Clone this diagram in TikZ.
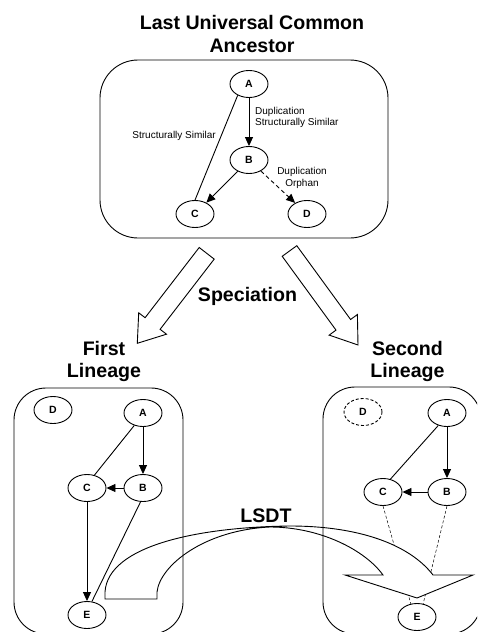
\documentclass[tikz,border=0pt]{standalone}
\usepackage{fontspec}
\setmainfont{Liberation Sans}
\usetikzlibrary{arrows.meta,shapes.geometric}
\begin{document}
\begin{tikzpicture}[x=1pt,y=-1pt,
  gene/.style={ellipse,draw,line width=0.9pt,minimum width=38pt,minimum height=27pt,inner sep=0pt,font=\fontsize{10.5}{12}\selectfont\bfseries},
  lbl/.style={font=\fontsize{10}{11.5}\selectfont,inner sep=0pt},
  big/.style={font=\fontsize{19.6}{22.5}\selectfont\bfseries,inner sep=0pt,align=center},
  con/.style={line width=0.9pt},
  arr/.style={con,-{Triangle[length=9pt,width=8pt]}},
  dashcon/.style={line width=0.9pt,dash pattern=on 4pt off 3pt},
  thindash/.style={line width=0.5pt,dash pattern=on 3pt off 2pt},
  container/.style={draw,line width=0.9pt,inner sep=0pt},
  fat/.style={draw,line width=0.9pt,fill=white,line join=miter}
]
\useasboundingbox (0,0) rectangle (477,632);
\clip (0,0) rectangle (477,632);

% ---------- top: LUCA ----------
\node[big] (title) at (252,34) {Last Universal Common\\Ancestor};
\node[container,rounded corners=38pt,minimum width=288pt,minimum height=178pt] (lucabox) at (244,149) {};

\node[gene] (A0) at (249,84) {A};
\node[gene] (B0) at (249,160) {B};
\node[gene] (C0) at (195,214) {C};
\node[gene] (D0) at (307,214) {D};

\draw[arr] (A0) -- (B0);
\draw[con] (A0.225) -- (C0.north);
\draw[arr] (B0) -- (C0);
\draw[dashcon,-{Triangle[length=9pt,width=8pt]}] (B0) -- (D0);

\node[lbl,anchor=east] (ssim) at (216,136) {Structurally Similar};
\node[lbl,anchor=west,align=left] (dupss) at (255,117.5) {Duplication\\Structurally Similar};
\node[lbl,align=center] (dupor) at (302,178) {Duplication\\Orphan};

% ---------- speciation arrows ----------
\draw[fat] (214.2,259.1) -- (160.1,329.3) -- (166.5,334.2) -- (137.3,343.3)
  -- (138.7,312.8) -- (145.1,317.7) -- (199.2,247.5) -- cycle;
\draw[fat] (296.8,245.7) -- (350.6,319.5) -- (357.4,314.5) -- (358,345)
  -- (329.2,335.1) -- (336.0,330.1) -- (282.2,256.3) -- cycle;
\node[big,anchor=base] (spec) at (247.5,301) {Speciation};

% ---------- lineage titles ----------
\node[big] (first) at (104,361.5) {First\\Lineage};
\node[big] (second) at (407.5,361.5) {Second\\Lineage};

% ---------- first lineage ----------
\node[gene] (D1) at (53,410) {D};
\node[gene] (A1) at (143,413) {A};
\node[gene] (C1) at (87,488) {C};
\node[gene] (B1) at (143,488) {B};
\node[gene] (E1) at (87,615) {E};

\draw[arr] (A1) -- (B1);
\draw[con] (A1.235) -- (C1.60);
\draw[arr] (B1) -- (C1);
\draw[arr] (C1) -- (E1);
\draw[con] (B1.260) -- (E1.70);

% ---------- second lineage ----------
\node[gene,dash pattern=on 3pt off 2pt] (D2) at (363,412) {D};
\node[gene] (A2) at (447,413) {A};
\node[gene] (C2) at (383,492) {C};
\node[gene] (B2) at (447,492) {B};
\node[gene] (E2) at (417,617) {E};

\draw[arr] (A2) -- (B2);
\draw[con] (A2.235) -- (C2.60);
\draw[arr] (B2) -- (C2);
\draw[thindash] (C2.south) -- (E2.115);
\draw[thindash] (B2.south) -- (E2.65);

% ---------- LSDT arrow ----------
\draw[fat] (105,599) -- (105,592)
  .. controls (108,545) and (200,527) .. (290,526)
  .. controls (360,526) and (410,545) .. (433,575)
  -- (473,575) -- (417,598) -- (345,575) -- (383,575)
  .. controls (365,550) and (320,527) .. (270,527)
  .. controls (205,530) and (160,565) .. (157,592)
  -- (157,599) -- cycle;
\node[big,anchor=base] (lsdt) at (266,522) {LSDT};

% ---------- lineage boxes ----------
\node[container,rounded corners=32pt,minimum width=169pt,minimum height=246pt] (box1) at (98.5,511) {};
\node[container,rounded corners=32pt,minimum width=158pt,minimum height=247pt] (box2) at (402,510.5) {};
\end{tikzpicture}
\end{document}
